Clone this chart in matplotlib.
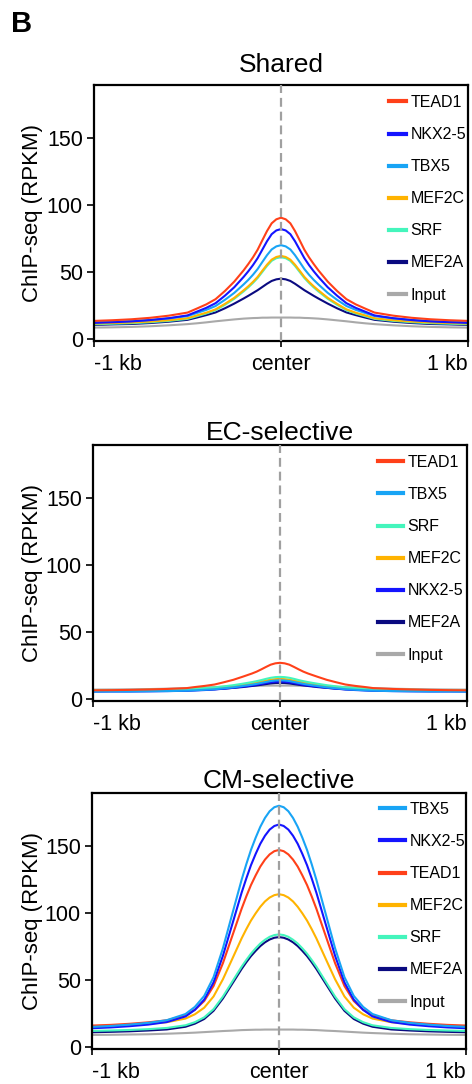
import matplotlib
matplotlib.use("Agg")
import matplotlib.pyplot as plt

plt.rcParams['font.family'] = ['Liberation Sans', 'DejaVu Sans']

# positions relative to peak center (bp)
positions = [-1000, -900, -800, -700, -600, -500, -450, -400, -350, -300, -250, -200, -175, -150,
             -125, -100, -75, -50, -25, 0, 25, 50, 75, 100, 125, 150, 175, 200, 250, 300, 350,
             400, 450, 500, 600, 700, 800, 900, 1000]

x_tick_pos = [-1000, 0, 1000]
x_tick_labels = ['-1 kb', 'center', '1 kb']
y_ticks = [0, 50, 100, 150]

colors = {
    'TEAD1': '#FF4019',
    'NKX2-5': '#1414FF',
    'TBX5': '#18A4F5',
    'MEF2C': '#FFB300',
    'SRF': '#44F5BC',
    'MEF2A': '#0A0A80',
    'Input': '#A9A9A9',
}

# ---- Shared ----
shared_order = ['TEAD1', 'NKX2-5', 'TBX5', 'MEF2C', 'SRF', 'MEF2A', 'Input']
shared_TEAD1 = [13.5, 14.0, 14.7, 15.8, 17.4, 19.7, 22.7, 25.8, 29.7, 35.8, 42.8, 51.2, 55.9, 60.9, 66.6, 73.6, 80.5, 86.3, 89.3,
                90.5,
                89.3, 86.3, 80.5, 73.6, 66.6, 60.9, 55.9, 51.2, 42.8, 35.8, 29.7, 25.8, 22.7, 19.7, 17.4, 15.8, 14.7, 14.0, 13.5]
shared_NKX2_5 = [12.0, 12.5, 13.1, 14.1, 15.5, 17.6, 20.4, 23.2, 26.7, 32.3, 38.6, 46.3, 50.5, 55.1, 60.3, 66.6, 72.9, 78.2, 81.0,
                 82.0,
                 81.0, 78.2, 72.9, 66.6, 60.3, 55.1, 50.5, 46.3, 38.6, 32.3, 26.7, 23.2, 20.4, 17.6, 15.5, 14.1, 13.1, 12.5, 12.0]
shared_TBX5 = [12.5, 12.9, 13.4, 14.2, 15.4, 17.1, 19.4, 21.7, 24.6, 29.2, 34.4, 40.7, 44.1, 47.9, 52.2, 57.4, 62.5, 66.8, 69.1,
               70.0,
               69.1, 66.8, 62.5, 57.4, 52.2, 47.9, 44.1, 40.7, 34.4, 29.2, 24.6, 21.7, 19.4, 17.1, 15.4, 14.2, 13.4, 12.9, 12.5]
shared_MEF2C = [11.5, 11.9, 12.3, 13.0, 14.0, 15.5, 17.6, 19.6, 22.1, 26.2, 30.7, 36.3, 39.3, 42.6, 46.3, 50.9, 55.4, 59.2, 61.2,
                62.0,
                61.2, 59.2, 55.4, 50.9, 46.3, 42.6, 39.3, 36.3, 30.7, 26.2, 22.1, 19.6, 17.6, 15.5, 14.0, 13.0, 12.3, 11.9, 11.5]
shared_SRF = [11.0, 11.4, 11.8, 12.5, 13.5, 15.0, 17.0, 19.0, 21.5, 25.5, 30.0, 35.5, 38.5, 41.8, 45.5, 50.0, 54.5, 58.3, 60.3,
              61.0,
              60.3, 58.3, 54.5, 50.0, 45.5, 41.8, 38.5, 35.5, 30.0, 25.5, 21.5, 19.0, 17.0, 15.0, 13.5, 12.5, 11.8, 11.4, 11.0]
shared_MEF2A = [10.5, 10.9, 11.2, 11.9, 12.9, 14.3, 16.0, 17.8, 19.8, 22.9, 26.4, 30.2, 32.2, 34.3, 36.4, 38.8, 41.2, 43.3, 44.5,
                45.0,
                44.5, 43.3, 41.2, 38.8, 36.4, 34.3, 32.2, 30.2, 26.4, 22.9, 19.8, 17.8, 16.0, 14.3, 12.9, 11.9, 11.2, 10.9, 10.5]
shared_Input = [8.5, 8.7, 9.0, 9.5, 10.2, 11.1, 11.7, 12.4, 13.2, 13.9, 14.6, 15.2, 15.4, 15.6, 15.7, 15.9, 15.9, 16.0, 16.0,
                16.0,
                16.0, 16.0, 15.9, 15.9, 15.7, 15.6, 15.4, 15.2, 14.6, 13.9, 13.2, 12.4, 11.7, 11.1, 10.2, 9.5, 9.0, 8.7, 8.5]

# ---- EC-selective ----
ec_order = ['TEAD1', 'TBX5', 'SRF', 'MEF2C', 'NKX2-5', 'MEF2A', 'Input']
ec_TEAD1 = [6.5, 6.6, 6.8, 7.1, 7.5, 8.1, 9.0, 9.8, 10.8, 12.5, 14.3, 16.6, 17.8, 19.0, 20.4, 22.1, 23.9, 25.6, 26.6,
            27.0,
            26.6, 25.6, 23.9, 22.1, 20.4, 19.0, 17.8, 16.6, 14.3, 12.5, 10.8, 9.8, 9.0, 8.1, 7.5, 7.1, 6.8, 6.6, 6.5]
ec_TBX5 = [5.5, 5.6, 5.6, 5.8, 5.9, 6.2, 6.5, 6.9, 7.3, 8.0, 8.7, 9.7, 10.2, 10.7, 11.3, 12.0, 12.7, 13.4, 13.8,
           14.0,
           13.8, 13.4, 12.7, 12.0, 11.3, 10.7, 10.2, 9.7, 8.7, 8.0, 7.3, 6.9, 6.5, 6.2, 5.9, 5.8, 5.6, 5.6, 5.5]
ec_SRF = [6.5, 6.6, 6.7, 6.8, 7.0, 7.3, 7.7, 8.1, 8.6, 9.4, 10.3, 11.4, 12.0, 12.6, 13.3, 14.1, 15.0, 15.8, 16.3,
          16.5,
          16.3, 15.8, 15.0, 14.1, 13.3, 12.6, 12.0, 11.4, 10.3, 9.4, 8.6, 8.1, 7.7, 7.3, 7.0, 6.8, 6.7, 6.6, 6.5]
ec_MEF2C = [6.5, 6.6, 6.6, 6.8, 6.9, 7.2, 7.5, 7.9, 8.3, 9.0, 9.7, 10.7, 11.2, 11.7, 12.3, 13.0, 13.7, 14.4, 14.8,
            15.0,
            14.8, 14.4, 13.7, 13.0, 12.3, 11.7, 11.2, 10.7, 9.7, 9.0, 8.3, 7.9, 7.5, 7.2, 6.9, 6.8, 6.6, 6.6, 6.5]
ec_NKX2_5 = [5.5, 5.6, 5.6, 5.7, 5.9, 6.1, 6.4, 6.7, 7.1, 7.7, 8.4, 9.2, 9.6, 10.1, 10.6, 11.2, 11.9, 12.5, 12.9,
             13.0,
             12.9, 12.5, 11.9, 11.2, 10.6, 10.1, 9.6, 9.2, 8.4, 7.7, 7.1, 6.7, 6.4, 6.1, 5.9, 5.7, 5.6, 5.6, 5.5]
ec_MEF2A = [6.0, 6.0, 6.1, 6.2, 6.3, 6.5, 6.7, 7.0, 7.3, 7.7, 8.3, 8.9, 9.3, 9.7, 10.1, 10.6, 11.1, 11.6, 11.9,
            12.0,
            11.9, 11.6, 11.1, 10.6, 10.1, 9.7, 9.3, 8.9, 8.3, 7.7, 7.3, 7.0, 6.7, 6.5, 6.3, 6.2, 6.1, 6.0, 6.0]
ec_Input = [7.0, 7.1, 7.2, 7.4, 7.7, 8.1, 8.3, 8.6, 8.9, 9.2, 9.4, 9.7, 9.8, 9.9, 9.9, 9.9, 10.0, 10.0, 10.0,
            10.0,
            10.0, 10.0, 10.0, 9.9, 9.9, 9.9, 9.8, 9.7, 9.4, 9.2, 8.9, 8.6, 8.3, 8.1, 7.7, 7.4, 7.2, 7.1, 7.0]

# ---- CM-selective ----
cm_order = ['TBX5', 'NKX2-5', 'TEAD1', 'MEF2C', 'SRF', 'MEF2A', 'Input']
cm_TBX5 = [15.0, 15.7, 16.7, 18.0, 20.0, 24.6, 29.9, 38.1, 52.1, 73.6, 99.2, 124.7, 136.3, 147.0, 156.1, 164.3, 170.9, 175.9, 178.9,
           180.0,
           178.9, 175.9, 170.9, 164.3, 156.1, 147.0, 136.3, 124.7, 99.2, 73.6, 52.1, 38.1, 29.9, 24.6, 20.0, 18.0, 16.7, 15.7, 15.0]
cm_NKX2_5 = [14.0, 14.6, 15.5, 16.7, 18.6, 22.8, 27.7, 35.3, 48.2, 68.0, 91.5, 115.1, 125.7, 135.6, 144.0, 151.6, 157.6, 162.2, 164.9,
             166.0,
             164.9, 162.2, 157.6, 151.6, 144.0, 135.6, 125.7, 115.1, 91.5, 68.0, 48.2, 35.3, 27.7, 22.8, 18.6, 16.7, 15.5, 14.6, 14.0]
cm_TEAD1 = [16.0, 16.5, 17.3, 18.4, 19.9, 23.6, 27.8, 34.3, 45.5, 62.5, 82.8, 103.1, 112.3, 120.8, 128.0, 134.6, 139.8, 143.7, 146.1,
            147.0,
            146.1, 143.7, 139.8, 134.6, 128.0, 120.8, 112.3, 103.1, 82.8, 62.5, 45.5, 34.3, 27.8, 23.6, 19.9, 18.4, 17.3, 16.5, 16.0]
cm_MEF2C = [15.5, 15.9, 16.5, 17.3, 18.5, 21.2, 24.4, 29.3, 37.7, 50.5, 65.7, 81.0, 87.9, 94.3, 99.7, 104.6, 108.6, 111.5, 113.3,
            114.0,
            113.3, 111.5, 108.6, 104.6, 99.7, 94.3, 87.9, 81.0, 65.7, 50.5, 37.7, 29.3, 24.4, 21.2, 18.5, 17.3, 16.5, 15.9, 15.5]
cm_SRF = [12.0, 12.3, 12.7, 13.3, 14.2, 16.2, 18.5, 22.1, 28.2, 37.6, 48.7, 59.9, 64.9, 69.6, 73.6, 77.2, 80.0, 82.2, 83.5,
          84.0,
          83.5, 82.2, 80.0, 77.2, 73.6, 69.6, 64.9, 59.9, 48.7, 37.6, 28.2, 22.1, 18.5, 16.2, 14.2, 13.3, 12.7, 12.3, 12.0]
cm_MEF2A = [11.0, 11.3, 11.7, 12.3, 13.1, 15.1, 17.4, 20.9, 27.0, 36.2, 47.2, 58.2, 63.2, 67.8, 71.7, 75.3, 78.1, 80.2, 81.5,
            82.0,
            81.5, 80.2, 78.1, 75.3, 71.7, 67.8, 63.2, 58.2, 47.2, 36.2, 27.0, 20.9, 17.4, 15.1, 13.1, 12.3, 11.7, 11.3, 11.0]
cm_Input = [9.0, 9.1, 9.3, 9.5, 9.9, 10.4, 10.7, 11.1, 11.5, 11.9, 12.2, 12.6, 12.7, 12.8, 12.9, 12.9, 13.0, 13.0, 13.0,
            13.0,
            13.0, 13.0, 13.0, 12.9, 12.9, 12.8, 12.7, 12.6, 12.2, 11.9, 11.5, 11.1, 10.7, 10.4, 9.9, 9.5, 9.3, 9.1, 9.0]

panels = [
    ('Shared', shared_order, {'TEAD1': shared_TEAD1, 'NKX2-5': shared_NKX2_5, 'TBX5': shared_TBX5,
                              'MEF2C': shared_MEF2C, 'SRF': shared_SRF, 'MEF2A': shared_MEF2A,
                              'Input': shared_Input}),
    ('EC-selective', ec_order, {'TEAD1': ec_TEAD1, 'TBX5': ec_TBX5, 'SRF': ec_SRF, 'MEF2C': ec_MEF2C,
                                'NKX2-5': ec_NKX2_5, 'MEF2A': ec_MEF2A, 'Input': ec_Input}),
    ('CM-selective', cm_order, {'TBX5': cm_TBX5, 'NKX2-5': cm_NKX2_5, 'TEAD1': cm_TEAD1,
                                'MEF2C': cm_MEF2C, 'SRF': cm_SRF, 'MEF2A': cm_MEF2A,
                                'Input': cm_Input}),
]

W, H = 472, 1084
fig = plt.figure(figsize=(W / 100, H / 100), dpi=100)

# pixel layout: (left, right, top, bottom), title pad (pt), legend (x, top), handle length
layout = [
    ((94, 468, 85, 341), 9.0, (389, 95), 1.05),
    ((93, 467, 445, 701), 3.5, (378, 455), 1.55),
    ((92, 466, 793, 1049), 3.5, (380, 802), 1.55),
]

for (title, order, data), ((l, r, t, b), tpad, (lx, ly), hl) in zip(panels, layout):
    ax = fig.add_axes([l / W, 1 - b / H, (r - l) / W, (b - t) / H])
    for name in reversed(order):
        ax.plot(positions, data[name], color=colors[name], lw=1.5, label=name)
    ax.axvline(0, color='#A0A0A0', lw=1.6, linestyle=(0, (4, 2.2)), zorder=5)
    ax.set_xlim(-1000, 1000)
    ax.set_ylim(-1.5, 189.5)
    ax.set_yticks(y_ticks)
    ax.set_xticks(x_tick_pos)
    ax.set_xticklabels(x_tick_labels)
    for lab, ha in zip(ax.get_xticklabels(), ['left', 'center', 'right']):
        lab.set_ha(ha)
    ax.tick_params(axis='y', direction='out', length=5, width=1.2, labelsize=15.5, pad=3)
    ax.tick_params(axis='x', direction='out', length=4, width=1.2, labelsize=15.5, pad=5)
    for s in ax.spines.values():
        s.set_linewidth(1.6)
    ax.set_title(title, fontsize=19, pad=tpad)
    ax.set_ylabel('ChIP-seq (RPKM)', fontsize=16)
    ax.yaxis.set_label_coords((43 - l) / (r - l), 0.5)

    handles, labels = ax.get_legend_handles_labels()
    hmap = dict(zip(labels, handles))
    leg = ax.legend([hmap[n] for n in order], order, loc='upper left',
                    bbox_to_anchor=(lx / W, 1 - ly / H), bbox_transform=fig.transFigure,
                    frameon=False, fontsize=11.5, handlelength=hl, handletextpad=0.3,
                    labelspacing=1.07, borderpad=0, borderaxespad=0)
    for line in leg.get_lines():
        line.set_linewidth(3.0)

fig.text(11 / W, 1 - 31.7 / H, 'B', fontsize=21, fontweight='bold', va='baseline', ha='left')

fig.savefig('out.png', dpi=100)
